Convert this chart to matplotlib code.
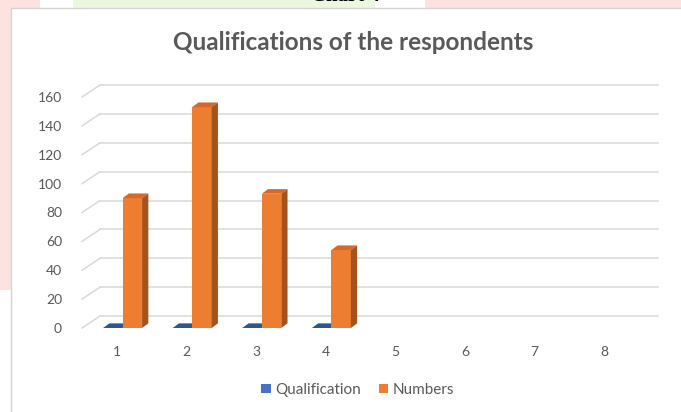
import matplotlib
matplotlib.use("Agg")
import matplotlib.pyplot as plt
from matplotlib.patches import Polygon, Rectangle, Patch

# data
categories = [1, 2, 3, 4, 5, 6, 7, 8]
qualification = [0, 0, 0, 0]
numbers = [90, 153, 93, 54]
y_ticks = [0, 20, 40, 60, 80, 100, 120, 140, 160]
series_names = ["Qualification", "Numbers"]

W, H = 681, 412
fig = plt.figure(figsize=(W / 100, H / 100), dpi=100)
fig.patch.set_facecolor("white")

# page background behind the chart (pixel coords)
bg = fig.add_axes([0, 0, 1, 1], zorder=-5)
bg.set_xlim(0, W)
bg.set_ylim(H, 0)
bg.axis("off")
bg.add_patch(Rectangle((0, 0), 40, 290, color="#fde2e0", lw=0))
bg.add_patch(Rectangle((73, 0), 302, 8, color="#ebf7df", lw=0))
bg.add_patch(Rectangle((425, 0), 256, 8, color="#fde2e0", lw=0))
bg.add_patch(Rectangle((11, 8), 700, 420, facecolor="white", edgecolor="#d4d4d4", lw=1))
bg.text(345, 6, "Chart 4", ha="center", va="bottom", fontsize=15, fontweight="bold",
        family="Liberation Serif", color="black", clip_on=True)

txt = "#595959"
plt.rcParams["font.family"] = ["Lato", "DejaVu Sans"]

def px2fig(x0, y0, x1, y1):
    return [x0 / W, 1 - y1 / H, (x1 - x0) / W, (y1 - y0) / H]

ax = fig.add_axes(px2fig(80, 70, 665, 335))
ax.set_xlim(0.468, 8.874)
ax.set_ylim(-4.85, 178.7)
ax.patch.set_alpha(0)
for s in ax.spines.values():
    s.set_visible(False)

# 3d wall / floor offsets and bar depth (data units)
wdx, wdy = 0.259, 8.3
bdx, bdy = 0.09, 3.2
x_front = 0.497
x_end = 8.773

for v in y_ticks:
    ax.plot([x_front + wdx, x_end], [v + wdy, v + wdy], color="#d9d9d9", lw=1.1, zorder=1)
    ax.plot([x_front, x_front + wdx], [v, v + wdy], color="#d9d9d9", lw=1.1, zorder=1)

bw = 0.28
series = [
    (qualification, -0.20, "#4472c4", "#2f5597", "#264478"),
    (numbers, 0.08, "#ed7d31", "#d4692a", "#a5531c"),
]
for vals, off, front, top, side in series:
    xs = [c + off for c in categories[:len(vals)]]
    ax.bar(xs, vals, width=bw, align="edge", color=front, lw=0, zorder=3)
    for x0, v in zip(xs, vals):
        x1 = x0 + bw
        ax.add_patch(Polygon([(x0, v), (x0 + bdx, v + bdy), (x1 + bdx, v + bdy), (x1, v)],
                             closed=True, facecolor=top, lw=0, zorder=3))
        if v > 0:
            ax.add_patch(Polygon([(x1, 0), (x1 + bdx, bdy), (x1 + bdx, v + bdy), (x1, v)],
                                 closed=True, facecolor=side, lw=0, zorder=3))

ax.set_yticks(y_ticks)
ax.set_yticklabels([str(t) for t in y_ticks])
ax.set_xticks(categories)
ax.set_xticklabels([str(c) for c in categories])
ax.tick_params(axis="y", length=0, pad=13, labelsize=10, labelcolor=txt)
ax.tick_params(axis="x", length=0, pad=8, labelsize=10, labelcolor=txt)

fig.text(353 / W, 1 - 43 / H, "Qualifications of the respondents", ha="center", va="center",
         fontsize=17.5, fontweight="bold", color=txt)

handles = [Patch(facecolor="#4472c4"), Patch(facecolor="#ed7d31")]
fig.legend(handles, series_names, loc="center", bbox_to_anchor=(358 / W, 1 - 390 / H),
           ncol=2, frameon=False, fontsize=11, labelcolor=txt, handlelength=0.6,
           handleheight=0.6, handletextpad=0.3, columnspacing=1.2)

fig.savefig("out.png", dpi=100)
